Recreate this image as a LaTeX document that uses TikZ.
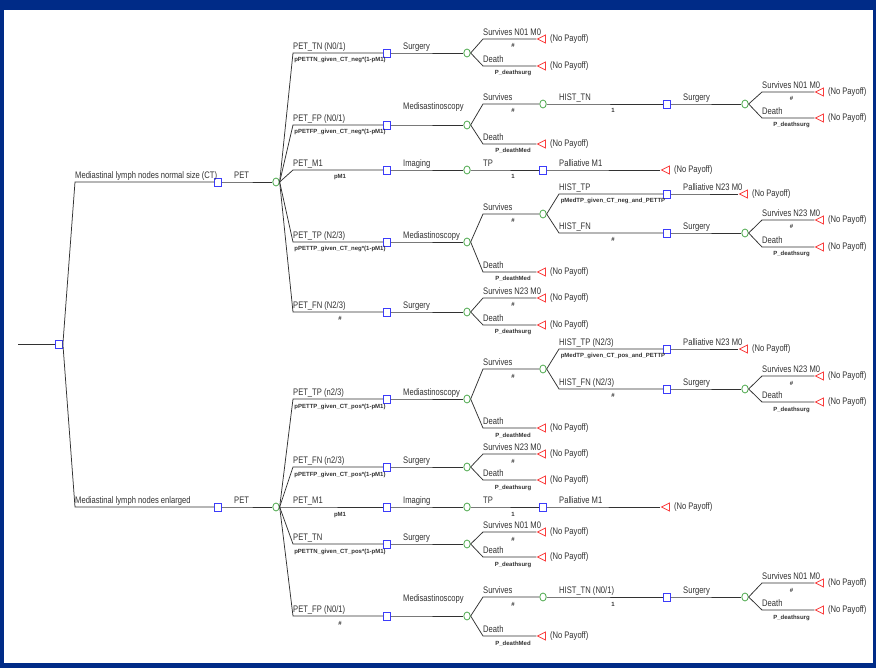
\documentclass[tikz,border=0pt]{standalone}
\usepackage{fontspec}
\setmainfont{Liberation Sans}
\newfontfamily\lblfont[FakeStretch=0.8]{Liberation Sans}
\usetikzlibrary{calc,shapes.geometric}

\definecolor{framebg}{RGB}{0,43,135}
\definecolor{decblue}{RGB}{60,60,250}
\definecolor{chgreen}{RGB}{80,170,80}
\definecolor{termred}{RGB}{250,60,60}
\definecolor{inkgray}{RGB}{50,50,50}

\tikzset{
  edge/.style={draw=inkgray,line width=0.75pt},
  decision/.style={rectangle,draw=decblue,fill=white,line width=0.8pt,minimum width=7pt,minimum height=8pt,inner sep=0},
  chance/.style={ellipse,draw=chgreen,fill=white,line width=0.8pt,minimum width=6.5pt,minimum height=8pt,inner sep=0},
  payoff/.style={isosceles triangle,shape border rotate=180,isosceles triangle stretches,draw=termred,fill=white,line width=0.8pt,minimum width=8pt,minimum height=8pt,inner sep=0},
  lbl/.style={font=\lblfont\fontsize{9.5}{11}\selectfont,text=inkgray,inner sep=0,anchor=base west},
  prob/.style={font=\bfseries\fontsize{6}{7}\selectfont,text=inkgray,inner sep=0,anchor=base},
  nopay/.style={font=\lblfont\fontsize{9.5}{11}\selectfont,text=inkgray,inner sep=0,anchor=west,xshift=4pt}
}

% parent, child, elbow x, child x, y, child style, label, probability
\newcommand{\arm}[8]{%
  \coordinate (#2k) at (#3,#5);
  \node[#6] (#2) at (#4,#5) {};
  \draw[edge] (#1.east) -- (#2k) -- (#2);
  \node[lbl] at ($(#2k)+(0,-3.5)$) {#7};
  \node[prob] at ($(#2k)!0.5!(#2)+(0,9)$) {#8};
}
% parent, child, elbow x, child x, y, label, probability
\newcommand{\leaf}[7]{%
  \arm{#1}{#2}{#3}{#4}{#5}{payoff}{#6}{#7}
  \node[nopay] at (#2.east) {(No Payoff)};
}

\begin{document}
\begin{tikzpicture}[x=1pt,y=-1pt]
  \fill[framebg] (0,0) rectangle (876,668);
  \fill[white] (4,10) rectangle (873,663);

  % root
  \coordinate (in) at (18,344);
  \node[decision] (root) at (59,344) {};
  \draw[edge] (in) -- (root);
  \arm{root}{ns}{75}{218}{182}{decision}{Mediastinal lymph nodes normal size (CT)}{}
  \arm{root}{en}{75}{218}{507}{decision}{Mediastinal lymph nodes enlarged}{}
  \arm{ns}{nsp}{234}{276}{182}{chance}{PET}{}
  \arm{en}{enp}{234}{276}{507}{chance}{PET}{}

  % CT normal size
  \arm{nsp}{a1}{293}{387}{53}{decision}{PET\_TN (N0/1)}{pPETTN\_given\_CT\_neg*(1-pM1)}
  \arm{nsp}{a2}{293}{387}{125}{decision}{PET\_FP (N0/1)}{pPETFP\_given\_CT\_neg*(1-pM1)}
  \arm{nsp}{a3}{293}{387}{170}{decision}{PET\_M1}{pM1}
  \arm{nsp}{a4}{293}{387}{242}{decision}{PET\_TP (N2/3)}{pPETTP\_given\_CT\_neg*(1-pM1)}
  \arm{nsp}{a5}{293}{387}{312}{decision}{PET\_FN (N2/3)}{\#}

  \arm{a1}{a1c}{403}{467}{53}{chance}{Surgery}{}
  \leaf{a1c}{a1x}{483}{543}{39}{Survives N01 M0}{\#}
  \leaf{a1c}{a1y}{483}{543}{66}{Death}{P\_deathsurg}

  \arm{a2}{a2c}{403}{467}{125}{chance}{\raisebox{11.5pt}{Medisastinoscopy}}{}
  \arm{a2c}{a2s}{483}{543}{104}{chance}{Survives}{\#}
  \leaf{a2c}{a2y}{483}{543}{144}{Death}{P\_deathMed}
  \arm{a2s}{a2h}{559}{667}{104}{decision}{HIST\_TN}{1}
  \arm{a2h}{a2hc}{683}{745}{104}{chance}{Surgery}{}
  \leaf{a2hc}{a2hx}{762}{821}{92}{Survives N01 M0}{\#}
  \leaf{a2hc}{a2hy}{762}{821}{118}{Death}{P\_deathsurg}

  \arm{a3}{a3c}{403}{467}{170}{chance}{Imaging}{}
  \arm{a3c}{a3t}{483}{543}{170}{decision}{TP}{1}
  \leaf{a3t}{a3x}{559}{667}{170}{Palliative M1}{}

  \arm{a4}{a4c}{403}{467}{242}{chance}{Mediastinoscopy}{}
  \arm{a4c}{a4s}{483}{543}{214}{chance}{Survives}{\#}
  \leaf{a4c}{a4y}{483}{543}{272}{Death}{P\_deathMed}
  \arm{a4s}{a4p}{559}{667}{194}{decision}{HIST\_TP}{pMedTP\_given\_CT\_neg\_and\_PETTP}
  \leaf{a4p}{a4px}{683}{745}{194}{Palliative N23 M0}{}
  \arm{a4s}{a4f}{559}{667}{233}{decision}{HIST\_FN}{\#}
  \arm{a4f}{a4fc}{683}{745}{233}{chance}{Surgery}{}
  \leaf{a4fc}{a4fx}{762}{821}{220}{Survives N23 M0}{\#}
  \leaf{a4fc}{a4fy}{762}{821}{247}{Death}{P\_deathsurg}

  \arm{a5}{a5c}{403}{467}{312}{chance}{Surgery}{}
  \leaf{a5c}{a5x}{483}{543}{298}{Survives N23 M0}{\#}
  \leaf{a5c}{a5y}{483}{543}{325}{Death}{P\_deathsurg}

  % CT enlarged
  \arm{enp}{b1}{293}{387}{399}{decision}{PET\_TP (n2/3)}{pPETTP\_given\_CT\_pos*(1-pM1)}
  \arm{enp}{b2}{293}{387}{467}{decision}{PET\_FN (n2/3)}{pPETFP\_given\_CT\_pos*(1-pM1)}
  \arm{enp}{b3}{293}{387}{507}{decision}{PET\_M1}{pM1}
  \arm{enp}{b4}{293}{387}{544}{decision}{PET\_TN}{pPETTN\_given\_CT\_pos*(1-pM1)}
  \arm{enp}{b5}{293}{387}{616}{decision}{PET\_FP (N0/1)}{\#}

  \arm{b1}{b1c}{403}{467}{399}{chance}{Mediastinoscopy}{}
  \arm{b1c}{b1s}{483}{543}{369}{chance}{Survives}{\#}
  \leaf{b1c}{b1y}{483}{543}{428}{Death}{P\_deathMed}
  \arm{b1s}{b1p}{559}{667}{349}{decision}{HIST\_TP (N2/3)}{pMedTP\_given\_CT\_pos\_and\_PETTP}
  \leaf{b1p}{b1px}{683}{745}{349}{Palliative N23 M0}{}
  \arm{b1s}{b1f}{559}{667}{389}{decision}{HIST\_FN (N2/3)}{\#}
  \arm{b1f}{b1fc}{683}{745}{389}{chance}{Surgery}{}
  \leaf{b1fc}{b1fx}{762}{821}{376}{Survives N23 M0}{\#}
  \leaf{b1fc}{b1fy}{762}{821}{402}{Death}{P\_deathsurg}

  \arm{b2}{b2c}{403}{467}{467}{chance}{Surgery}{}
  \leaf{b2c}{b2x}{483}{543}{454}{Survives N23 M0}{\#}
  \leaf{b2c}{b2y}{483}{543}{480}{Death}{P\_deathsurg}

  \arm{b3}{b3c}{403}{467}{507}{chance}{Imaging}{}
  \arm{b3c}{b3t}{483}{543}{507}{decision}{TP}{1}
  \leaf{b3t}{b3x}{559}{667}{507}{Palliative M1}{}

  \arm{b4}{b4c}{403}{467}{544}{chance}{Surgery}{}
  \leaf{b4c}{b4x}{483}{543}{532}{Survives N01 M0}{\#}
  \leaf{b4c}{b4y}{483}{543}{557}{Death}{P\_deathsurg}

  \arm{b5}{b5c}{403}{467}{616}{chance}{\raisebox{11.5pt}{Medisastinoscopy}}{}
  \arm{b5c}{b5s}{483}{543}{597}{chance}{Survives}{\#}
  \leaf{b5c}{b5y}{483}{543}{636}{Death}{P\_deathMed}
  \arm{b5s}{b5h}{559}{667}{597}{decision}{HIST\_TN (N0/1)}{1}
  \arm{b5h}{b5hc}{683}{745}{597}{chance}{Surgery}{}
  \leaf{b5hc}{b5hx}{762}{821}{583}{Survives N01 M0}{\#}
  \leaf{b5hc}{b5hy}{762}{821}{610}{Death}{P\_deathsurg}
\end{tikzpicture}
\end{document}
